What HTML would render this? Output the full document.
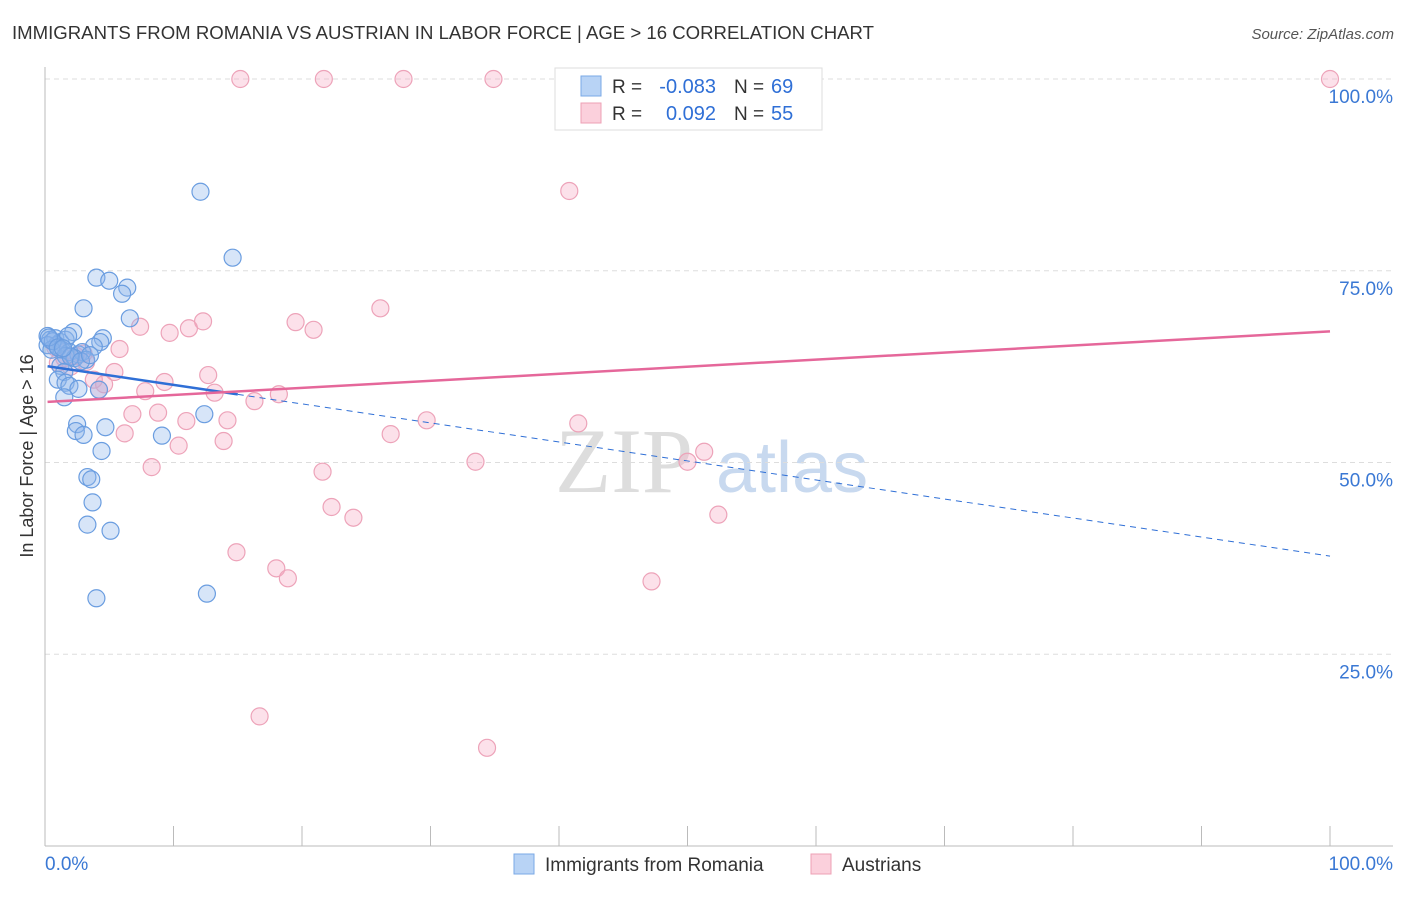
<!DOCTYPE html>
<html><head><meta charset="utf-8"><style>
body{margin:0;background:#fff;font-family:"Liberation Sans",sans-serif;}
#wrap{position:relative;width:1406px;height:892px;}
</style></head><body>
<div id="wrap">
<svg id="svg" width="1406" height="892" xmlns="http://www.w3.org/2000/svg" font-family="Liberation Sans, sans-serif">
<text x="12" y="39" font-size="18" fill="#333" textLength="862" lengthAdjust="spacingAndGlyphs">IMMIGRANTS FROM ROMANIA VS AUSTRIAN IN LABOR FORCE | AGE &gt; 16 CORRELATION CHART</text>
<text x="1394" y="39" font-size="15" fill="#555" font-style="italic" text-anchor="end">Source: ZipAtlas.com</text>
<text x="33" y="456" font-size="18" fill="#333" text-anchor="middle" transform="rotate(-90 33 456)">In Labor Force | Age &gt; 16</text>
<g><text x="555" y="492" font-size="92" fill="#ddd" font-family="Liberation Serif, serif">ZIP</text><text x="716" y="492" font-size="72" fill="#c8d9ef">atlas</text></g>
<g id="grid"></g><g id="axes"></g><g id="marks"></g><g id="lines"></g>
<g>
<rect x="555" y="68" width="267" height="62" fill="#fff" stroke="#ddd"/>
<rect x="581" y="76" width="20" height="20" fill="#b8d3f5" stroke="#7aa8e6"/>
<rect x="581" y="103" width="20" height="20" fill="#fbd0dc" stroke="#eea0b5"/>
<text x="612" y="93" font-size="19" fill="#333">R =</text>
<text x="716" y="93" font-size="20" fill="#2f6fd6" text-anchor="end">-0.083</text>
<text x="734" y="93" font-size="19" fill="#333">N =</text>
<text x="771" y="93" font-size="20" fill="#2f6fd6">69</text>
<text x="612" y="120" font-size="19" fill="#333">R =</text>
<text x="716" y="120" font-size="20" fill="#2f6fd6" text-anchor="end">0.092</text>
<text x="734" y="120" font-size="19" fill="#333">N =</text>
<text x="771" y="120" font-size="20" fill="#2f6fd6">55</text>
</g>
<g>
<rect x="514" y="854" width="20" height="20" fill="#b8d3f5" stroke="#7aa8e6"/>
<text x="545" y="871" font-size="19" fill="#333">Immigrants from Romania</text>
<rect x="811" y="854" width="20" height="20" fill="#fbd0dc" stroke="#eea0b5"/>
<text x="842" y="871" font-size="19" fill="#333">Austrians</text>
</g>
</svg>
</div>
<script>
const yTicks=[25,50,75,100];
const yTickLabels=["25.0%","50.0%","75.0%","100.0%"];
const xTicks=[0,10,20,30,40,50,60,70,80,90,100];
const blueX=[12.1,14.6,4.0,5.0,6.4,6.0,3.0,6.6,0.2,0.4,0.8,1.2,1.6,2.2,1.8,4.5,4.3,3.8,0.9,1.3,1.9,2.6,2.9,0.2,0.5,1.6,2.3,3.2,1.2,1.5,1.0,1.6,1.9,2.6,4.2,1.5,12.4,2.5,2.4,3.0,4.7,9.1,4.4,3.3,3.6,3.7,3.3,5.1,4.0,12.6,0.6,0.3,1.0,2.0,1.4,2.8,3.5];
const blueY=[85.3,76.7,74.1,73.7,72.8,72.0,70.1,68.8,66.5,66.0,66.2,65.7,66.0,67.0,66.5,66.2,65.7,65.1,65.3,64.7,64.4,64.1,64.4,65.3,64.7,63.9,63.6,63.4,62.6,61.8,60.8,60.4,60.0,59.6,59.5,58.5,56.3,55.0,54.1,53.6,54.6,53.5,51.5,48.1,47.8,44.8,41.9,41.1,32.3,32.9,65.8,66.3,65.0,63.8,64.9,63.2,64.0];
const pinkX=[15.2,21.7,27.9,34.9,100,40.8,7.4,9.7,11.2,12.3,19.5,20.9,26.1,5.8,2.4,3.2,1.5,5.4,3.8,4.6,9.3,12.7,13.2,16.3,18.2,4.2,7.8,6.8,8.8,11.0,14.2,6.2,10.4,13.9,26.9,29.7,41.5,8.3,21.6,33.5,50.0,51.3,22.3,24.0,52.4,14.9,18.0,18.9,47.2,16.7,34.4,1.0,2.0,3.0,0.8];
const pinkY=[100,100,100,100,100,85.4,67.7,66.9,67.5,68.4,68.3,67.3,70.1,64.8,63.9,63.1,63.6,61.8,60.8,60.2,60.5,61.4,59.1,58.0,58.9,59.5,59.3,56.3,56.5,55.4,55.5,53.8,52.2,52.8,53.7,55.5,55.1,49.4,48.8,50.1,50.1,51.4,44.2,42.8,43.2,38.3,36.2,34.9,34.5,16.9,12.8,63.0,62.5,64.2,65.0];
const blueTrend=[62.6,37.8];
const pinkTrend=[57.9,67.1];
const blueSolidEnd=15;
const X=v=>45+v*12.85, Y=v=>846-v*7.67;
const NS="http://www.w3.org/2000/svg";
function mk(t,a,p){const e=document.createElementNS(NS,t);for(const k in a)e.setAttribute(k,a[k]);p.appendChild(e);return e;}
const grid=document.getElementById('grid'),axes=document.getElementById('axes'),marks=document.getElementById('marks'),lines=document.getElementById('lines');
yTicks.forEach((t,i)=>{
 const g=mk('line',{x1:45,x2:1393,y1:Y(t),y2:Y(t),stroke:'#ddd','stroke-dasharray':'5,4'},grid);
 
 
 const l=mk('text',{x:1393,y:Y(t)+24,'font-size':19,fill:'#3a78d4','text-anchor':'end'},axes);
 l.textContent=yTickLabels[i];
 
 
});
const ax=mk('line',{x1:45,x2:1393,y1:846,y2:846,stroke:'#bbb'},axes);


const ay=mk('line',{x1:45,x2:45,y1:67,y2:846,stroke:'#bbb'},axes);


xTicks.forEach(t=>{const k=mk('line',{x1:X(t),x2:X(t),y1:826,y2:846,stroke:'#bbb'},axes);
 
 });
[[0,'0.0%','start',45],[100,'100.0%','end',1393]].forEach(a=>{const l=mk('text',{x:a[3],y:870,'font-size':19,fill:'#3a78d4','text-anchor':a[2]},axes);l.textContent=a[1];
 
 });
pinkX.forEach((x,i)=>{const c=mk('circle',{cx:X(x),cy:Y(pinkY[i]),r:8.5,fill:'rgba(246,170,195,0.35)',stroke:'#eda3b9','stroke-width':1.2},marks);
 
 });
blueX.forEach((x,i)=>{const c=mk('circle',{cx:X(x),cy:Y(blueY[i]),r:8.5,fill:'rgba(140,180,235,0.35)',stroke:'#6a9de0','stroke-width':1.2},marks);
 
 });
const bAt=v=>blueTrend[0]+(blueTrend[1]-blueTrend[0])*v/100;
const bl=mk('line',{x1:X(0.2),y1:Y(bAt(0.2)),x2:X(blueSolidEnd),y2:Y(bAt(blueSolidEnd)),stroke:'#2f6fd6','stroke-width':2.5},lines);


const bd=mk('line',{x1:X(blueSolidEnd),y1:Y(bAt(blueSolidEnd)),x2:X(100),y2:Y(bAt(100)),stroke:'#2f6fd6','stroke-width':1,'stroke-dasharray':'6,5'},lines);


const pl=mk('line',{x1:X(0.2),y1:Y(pinkTrend[0]),x2:X(100),y2:Y(pinkTrend[1]),stroke:'#e5679a','stroke-width':2.5},lines);


</script>
</body></html>
